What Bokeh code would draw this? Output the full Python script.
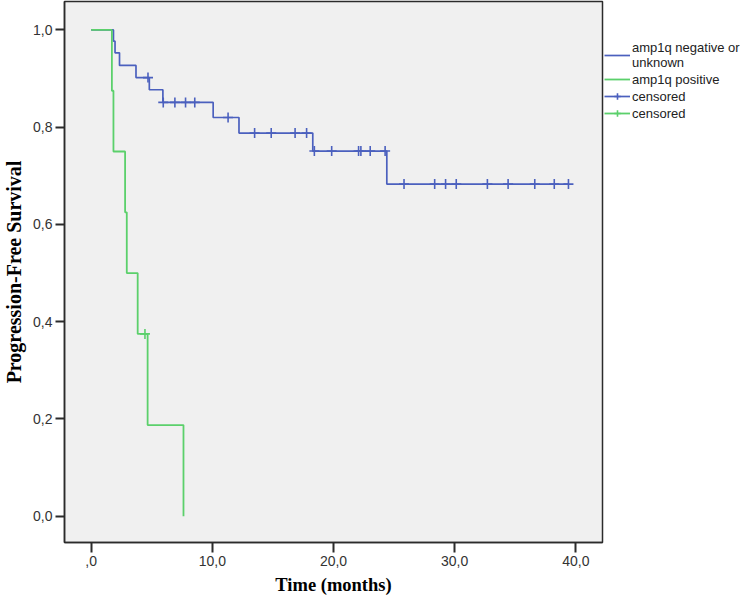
from bokeh.plotting import figure
from bokeh.models import FixedTicker, Legend, LegendItem, Range1d
from bokeh.layouts import row
from bokeh.embed import file_html
from bokeh.resources import INLINE

# ---- data ----
neg_time = [0, 1.84, 1.97, 2.34, 3.70, 4.80, 5.92, 10.07, 12.20, 18.29, 24.40, 39.39]
neg_surv = [1.0, 0.977, 0.953, 0.927, 0.902, 0.877, 0.851, 0.820, 0.788, 0.751, 0.683, 0.683]
neg_cens_time = [4.69, 5.95, 6.91, 7.79, 8.55, 11.30, 13.49, 14.86, 16.83, 17.78,
                 18.42, 19.85, 22.07, 22.26, 23.03, 24.26,
                 25.82, 28.35, 29.25, 30.13, 32.70, 34.41, 36.61, 38.22, 39.39]
neg_cens_surv = [0.902, 0.851, 0.851, 0.851, 0.851, 0.820, 0.788, 0.788, 0.788, 0.788,
                 0.751, 0.751, 0.751, 0.751, 0.751, 0.751,
                 0.683, 0.683, 0.683, 0.683, 0.683, 0.683, 0.683, 0.683, 0.683]

pos_time = [0, 1.71, 1.84, 2.80, 2.94, 3.84, 4.66, 7.62]
pos_surv = [1.0, 0.875, 0.75, 0.625, 0.5, 0.375, 0.1875, 0.0]
pos_cens_time = [4.44]
pos_cens_surv = [0.375]

series_labels = ["amp1q negative or\nunknown", "amp1q positive", "censored", "censored"]

x_ticks = [0, 10, 20, 30, 40]
x_tick_labels = [",0", "10,0", "20,0", "30,0", "40,0"]
y_ticks = [0.0, 0.2, 0.4, 0.6, 0.8, 1.0]
y_tick_labels = ["0,0", "0,2", "0,4", "0,6", "0,8", "1,0"]

x_title = "Time (months)"
y_title = "Progression-Free Survival"

BLUE = "#4b60be"
GREEN = "#5bd06b"

# ---- main plot ----
p = figure(width=604, height=597, output_backend="svg", toolbar_location=None,
           x_range=Range1d(-2.20, 42.2), y_range=Range1d(-0.054, 1.0585),
           min_border_left=62, min_border_right=2, min_border_top=1, min_border_bottom=54)

p.background_fill_color = "#f0f0f0"
p.border_fill_color = "white"
p.outline_line_color = "#2b2b2b"
p.outline_line_width = 1.5
p.xgrid.visible = False
p.ygrid.visible = False

line_style = [dict(line_color=BLUE, line_width=1.7), dict(line_color=GREEN, line_width=1.8)]
cross_style = [dict(marker="cross", size=10, line_color=BLUE, line_width=1.6),
               dict(marker="cross", size=10, line_color=GREEN, line_width=1.6)]

p.step(neg_time, neg_surv, mode="after", **line_style[0])
p.step(pos_time, pos_surv, mode="after", **line_style[1])
p.scatter(neg_cens_time, neg_cens_surv, **cross_style[0])
p.scatter(pos_cens_time, pos_cens_surv, **cross_style[1])

for ax, ticks, labels, tl in ((p.xaxis[0], x_ticks, x_tick_labels, 10),
                              (p.yaxis[0], y_ticks, y_tick_labels, 9)):
    ax.ticker = FixedTicker(ticks=ticks)
    ax.major_label_overrides = dict(zip(ticks, labels))
    ax.minor_tick_line_color = None
    ax.major_tick_in = 0
    ax.major_tick_out = tl
    ax.major_tick_line_width = 2
    ax.major_tick_line_color = "#2b2b2b"
    ax.axis_line_color = "#2b2b2b"
    ax.axis_line_width = 1.5
    ax.major_label_text_font = "Liberation Sans"
    ax.major_label_text_font_size = "14px"
    ax.major_label_text_color = "#333333"
    ax.axis_label_text_font = "Liberation Serif"
    ax.axis_label_text_font_style = "bold"
    ax.axis_label_text_color = "black"

p.xaxis[0].axis_label = x_title
p.xaxis[0].axis_label_text_font_size = "18.5px"
p.xaxis[0].major_label_standoff = 3
p.xaxis[0].axis_label_standoff = 6
p.yaxis[0].axis_label = y_title
p.yaxis[0].axis_label_text_font_size = "20px"
p.yaxis[0].major_label_standoff = 3
p.yaxis[0].axis_label_standoff = 5

# ---- legend panel (same series, legend only) ----
q = figure(width=137, height=597, output_backend="svg", toolbar_location=None,
           min_border=0, x_axis_type=None, y_axis_type=None)
q.outline_line_color = None
q.background_fill_color = "white"
q.border_fill_color = "white"
q.xgrid.visible = False
q.ygrid.visible = False
l1 = q.step(neg_time, neg_surv, mode="after", visible=False, **line_style[0])
l2 = q.step(pos_time, pos_surv, mode="after", visible=False, **line_style[1])
l3 = q.scatter(neg_cens_time, neg_cens_surv, visible=False,
               **dict(cross_style[0], size=13))
l4 = q.scatter(pos_cens_time, pos_cens_surv, visible=False,
               **dict(cross_style[1], size=13))

legend = Legend(items=[LegendItem(label=series_labels[0], renderers=[l1]),
                       LegendItem(label=series_labels[1], renderers=[l2]),
                       LegendItem(label=series_labels[2], renderers=[l1, l3]),
                       LegendItem(label=series_labels[3], renderers=[l2, l4])],
                location=(0, 421), margin=0, padding=0, spacing=1,
                glyph_width=26, glyph_height=16, label_standoff=2, label_height=16,
                label_text_font="Liberation Sans", label_text_font_size="13px",
                label_text_color="#222222", label_text_line_height=1.0,
                border_line_color=None, background_fill_alpha=0)
q.add_layout(legend, "center")

open("out.html", "w").write(file_html(row(p, q, spacing=0), INLINE))
